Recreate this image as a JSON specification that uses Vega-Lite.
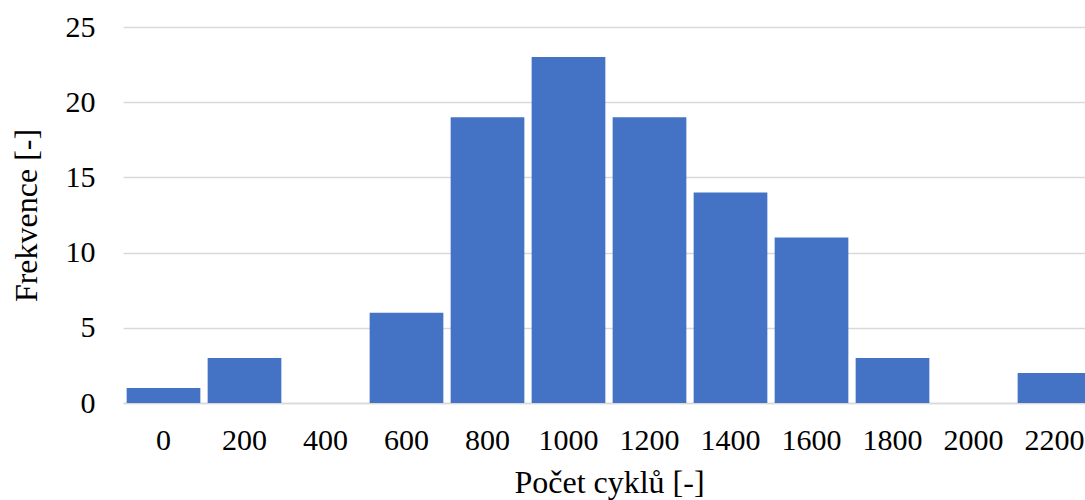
{
  "$schema": "https://vega.github.io/schema/vega-lite/v6.json",
  "autosize": {"type": "none"},
  "padding": {"left": 123, "top": 27, "right": 0, "bottom": 97},
  "width": 972,
  "height": 376,
  "background": "white",
  "config": {
    "view": {"stroke": null},
    "font": "Times New Roman, Liberation Serif, serif",
    "axis": {
      "labelFont": "Times New Roman, Liberation Serif, serif",
      "titleFont": "Times New Roman, Liberation Serif, serif",
      "labelFontSize": 30,
      "titleFontSize": 32,
      "titleFontWeight": "normal",
      "labelColor": "#000000",
      "titleColor": "#000000"
    }
  },
  "data": {
    "values": [
      {"cykly": "0", "frekvence": 1},
      {"cykly": "200", "frekvence": 3},
      {"cykly": "400", "frekvence": 0},
      {"cykly": "600", "frekvence": 6},
      {"cykly": "800", "frekvence": 19},
      {"cykly": "1000", "frekvence": 23},
      {"cykly": "1200", "frekvence": 19},
      {"cykly": "1400", "frekvence": 14},
      {"cykly": "1600", "frekvence": 11},
      {"cykly": "1800", "frekvence": 3},
      {"cykly": "2000", "frekvence": 0},
      {"cykly": "2200", "frekvence": 2}
    ]
  },
  "mark": {"type": "bar", "color": "#4472C4"},
  "encoding": {
    "x": {
      "field": "cykly",
      "type": "ordinal",
      "sort": null,
      "scale": {"paddingInner": 0.09, "paddingOuter": 0.045},
      "axis": {
        "title": "Počet cyklů [-]",
        "titlePadding": 12,
        "labelAngle": 0,
        "labelPadding": 22,
        "ticks": false,
        "domain": true,
        "domainColor": "#d9d9d9",
        "domainWidth": 1.5
      }
    },
    "y": {
      "field": "frekvence",
      "type": "quantitative",
      "scale": {"domain": [0, 25]},
      "axis": {
        "title": "Frekvence [-]",
        "titlePadding": 22,
        "values": [0, 5, 10, 15, 20, 25],
        "labelPadding": 28,
        "ticks": false,
        "domain": false,
        "grid": true,
        "gridColor": "#d9d9d9",
        "gridWidth": 1.5
      }
    }
  }
}
